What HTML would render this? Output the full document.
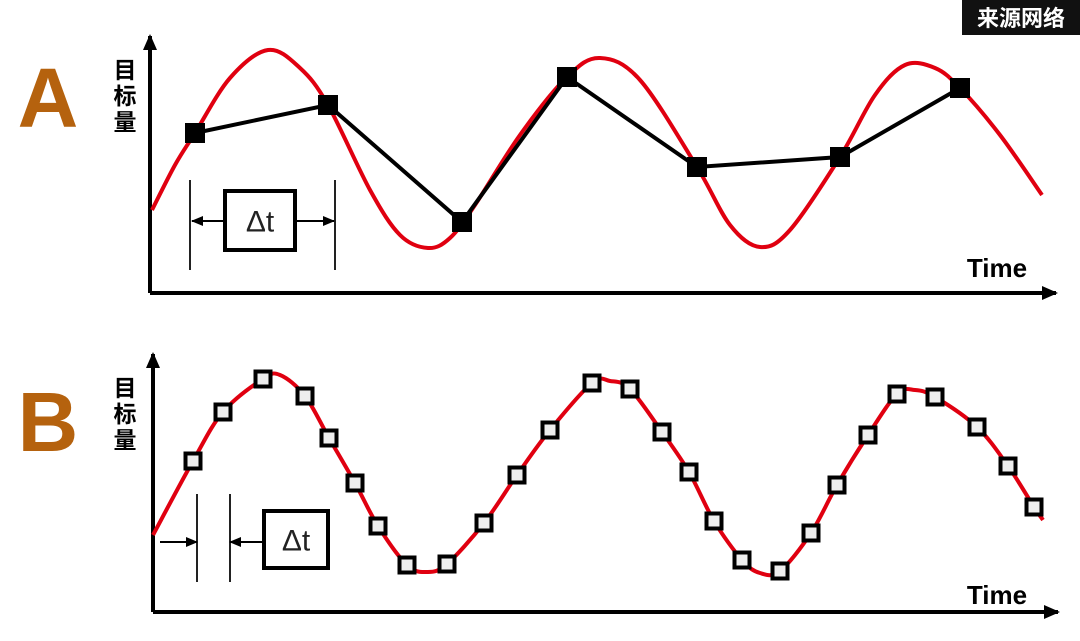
<!DOCTYPE html>
<html><head><meta charset="utf-8"><style>
body{margin:0;background:#fff;width:1080px;height:636px;overflow:hidden}
svg text{font-family:"Liberation Sans","Noto Sans CJK SC",sans-serif}
</style></head><body>
<svg width="1080" height="636" viewBox="0 0 1080 636">
<defs>
<marker id="ah" markerUnits="userSpaceOnUse" markerWidth="16" markerHeight="14" refX="14" refY="7" orient="auto"><path d="M0,0L16,7L0,14z" fill="#000"/></marker>
<marker id="as" markerUnits="userSpaceOnUse" markerWidth="12" markerHeight="10" refX="11" refY="5" orient="auto"><path d="M0,0L12,5L0,10z" fill="#000"/></marker>
</defs>
<rect x="962" y="0" width="118" height="35" fill="#111"/>
<text x="1021" y="26" font-size="22" font-weight="bold" fill="#fff" text-anchor="middle">来源网络</text>
<text x="48" y="127" font-size="84" font-weight="bold" fill="#b5620e" text-anchor="middle">A</text>
<text x="48" y="451" font-size="84" font-weight="bold" fill="#b5620e" text-anchor="middle">B</text>
<g id="ga"></g>
<g id="gb"></g>
</svg>
<script>
const curveAx=[152,175,195,230,268,300,328,370,400,428,450,475,520,567,600,640,697,730,760,790,840,875,905,935,960,1000,1042];
const curveAy=[210,165,133,78,50,68,105,190,235,248,238,205,135,77,58,80,167,225,247,230,157,95,65,68,88,135,195];
const markAx=[195,328,462,567,697,840,960];
const markAy=[133,105,222,77,167,157,88];
const markBx=[193,223,263,305,329,355,378,407,447,484,517,550,592,630,662,689,714,742,780,811,837,868,897,935,977,1008,1034];
const markBy=[461,412,379,396,438,483,526,565,564,523,475,430,383,389,432,472,521,560,571,533,485,435,394,397,427,466,507];
const curveBx=[153,193,223,263,280,305,329,355,378,407,427,447,484,517,550,592,610,630,662,689,714,742,760,780,811,837,868,897,915,935,977,1008,1034,1043];
const curveBy=[535,461,412,379,375,396,438,483,526,565,572,564,523,475,430,383,381,389,432,472,521,560,573,571,533,485,435,394,390,397,427,466,507,520];
const NS='http://www.w3.org/2000/svg';
function mk(t,a,p){const e=document.createElementNS(NS,t);for(const k in a)e.setAttribute(k,a[k]);p.appendChild(e);return e;}
function smooth(xs,ys){let d='M'+xs[0]+','+ys[0];for(let i=0;i<xs.length-1;i++){const i0=Math.max(0,i-1),i3=Math.min(xs.length-1,i+2);const c1x=xs[i]+(xs[i+1]-xs[i0])/6,c1y=ys[i]+(ys[i+1]-ys[i0])/6,c2x=xs[i+1]-(xs[i3]-xs[i])/6,c2y=ys[i+1]-(ys[i3]-ys[i])/6;d+=` C${c1x},${c1y} ${c2x},${c2y} ${xs[i+1]},${ys[i+1]}`;}return d;}
function axes(g,x0,y0,ytop,xend,ty){
 let e=mk('line',{x1:x0,y1:y0,x2:x0,y2:ytop,stroke:'#000','stroke-width':4,'marker-end':'url(#ah)'},g);
 
 e=mk('line',{x1:x0,y1:y0,x2:xend,y2:y0,stroke:'#000','stroke-width':4,'marker-end':'url(#ah)'},g);
 
 e=mk('text',{x:997,y:ty,'font-size':26,'font-weight':'bold','text-anchor':'middle'},g);e.textContent='Time';
 
 ['目','标','量'].forEach((c,i)=>{const t=mk('text',{x:125,y:ytop+42+i*26,'font-size':23,'font-weight':'bold','text-anchor':'middle'},g);t.textContent=c;
 });
}
const ga=document.getElementById('ga'),gb=document.getElementById('gb');
axes(ga,150,293,36,1056,277);
axes(gb,153,612,354,1058,604);
let p=mk('path',{d:smooth(curveAx,curveAy),fill:'none',stroke:'#e00010','stroke-width':4},ga);

p=mk('polyline',{points:markAx.map((x,i)=>x+','+markAy[i]).join(' '),fill:'none',stroke:'#000','stroke-width':4},ga);

markAx.forEach((x,i)=>{const r=mk('rect',{x:x-10,y:markAy[i]-10,width:20,height:20,fill:'#000'},ga);
});
p=mk('path',{d:smooth(curveBx,curveBy),fill:'none',stroke:'#e00010','stroke-width':4},gb);

markBx.forEach((x,i)=>{const r=mk('rect',{x:x-7.5,y:markBy[i]-7.5,width:15,height:15,fill:'#eee',stroke:'#000','stroke-width':4},gb);
});
function dt(g,lines,box,arrows){
 lines.forEach(l=>{const e=mk('line',{x1:l[0],y1:l[1],x2:l[0],y2:l[2],stroke:'#222','stroke-width':2},g);});
 arrows.forEach(a=>{const e=mk('line',{x1:a[0],y1:a[2],x2:a[1],y2:a[2],stroke:'#000','stroke-width':2,'marker-end':'url(#as)'},g);});
 const r=mk('rect',{x:box[0],y:box[1],width:box[2],height:box[3],fill:'#fff',stroke:'#000','stroke-width':4},g);
 
 const t=mk('text',{x:box[0]+box[2]/2,y:box[1]+box[3]/2+11,'font-size':30,'text-anchor':'middle',fill:'#222'},g);t.textContent='Δt';
 
}
dt(ga,[[190,180,270],[335,180,270]],[225,191,70,59],[[225,192,221],[295,334,221]]);
dt(gb,[[197,494,582],[230,494,582]],[264,511,64,57],[[160,197,542],[262,230,542]]);
</script>
</body></html>
